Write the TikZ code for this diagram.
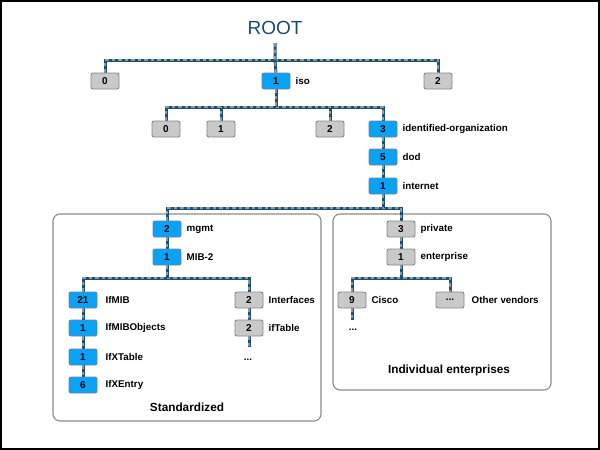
\documentclass[tikz,border=0pt]{standalone}
\usepackage{fontspec}
\setmainfont{Liberation Sans}
\usetikzlibrary{backgrounds}
\definecolor{rootblue}{HTML}{1B4A6B}
\definecolor{cabdark}{HTML}{1D4F73}
\definecolor{cabgray}{HTML}{8C989F}
\definecolor{boxblue}{HTML}{0AA2F7}
\definecolor{boxblueline}{HTML}{6F8493}
\definecolor{boxgray}{HTML}{C8C9C8}
\definecolor{boxgrayline}{HTML}{858585}
\definecolor{panelline}{HTML}{8A8A8A}
\tikzset{
  oidbox/.style={rectangle, rounded corners=2pt, minimum width=28pt, minimum height=16pt, inner sep=0pt, line width=0.9pt, font=\fontsize{10}{12}\selectfont\bfseries},
  bluebox/.style={oidbox, fill=boxblue, draw=boxblueline},
  graybox/.style={oidbox, fill=boxgray, draw=boxgrayline},
  lbl/.style={anchor=west, inner sep=0pt, font=\fontsize{9.8}{12}\selectfont\bfseries},
  ttl/.style={inner sep=0pt, font=\fontsize{11.8}{14}\selectfont\bfseries},
  cable/.style={draw=cabdark, line width=3pt, postaction={draw=cabgray, line width=1.7pt, dash pattern=on 3.5pt off 3pt}},
  panel/.style={draw=panelline, line width=1.1pt, rounded corners=7pt}
}
\begin{document}
\begin{tikzpicture}[x=1pt,y=-1pt]
\useasboundingbox (0,0) rectangle (600,450);
\draw[black, line width=1.6pt] (0.8,0.8) rectangle (599.2,449.2);

% ROOT
\node[inner sep=0pt, text=rootblue, font=\fontsize{19}{22}\selectfont] (root) at (275,28) {ROOT};
\coordinate (rootbot) at (275,43);

% level 1
\node[graybox] (a0) at (105,81) {0};
\node[bluebox] (iso) at (276,81) {1};
\node[lbl] (isol) at ([xshift=5pt]iso.east) {iso};
\node[graybox] (a2) at (438,81) {2};

% level 2
\node[graybox] (b0) at (166,129) {0};
\node[graybox] (b1) at (221,129) {1};
\node[graybox] (b2) at (330,129) {2};
\node[bluebox] (idorg) at (383,129) {3};
\node[lbl] (idorgl) at ([xshift=5pt]idorg.east) {identified-organization};
\node[bluebox] (dod) at (383,157) {5};
\node[lbl] (dodl) at ([xshift=5pt]dod.east) {dod};
\node[bluebox] (inet) at (383,186) {1};
\node[lbl] (inetl) at ([xshift=5pt]inet.east) {internet};

% standardized
\node[bluebox] (mgmt) at (167,229) {2};
\node[lbl] (mgmtl) at ([xshift=5pt]mgmt.east) {mgmt};
\node[bluebox] (mib) at (167,257) {1};
\node[lbl] (mibl) at ([xshift=5pt]mib.east) {MIB-2};
\node[bluebox] (ifmib) at (83,300) {21};
\node[lbl] (ifmibl) at ([xshift=8pt]ifmib.east) {IfMIB};
\node[bluebox] (ifobj) at (83,328) {1};
\node[lbl] (ifobjl) at ([xshift=8pt]ifobj.east) {IfMIBObjects};
\node[bluebox] (ifxt) at (83,357) {1};
\node[lbl] (ifxtl) at ([xshift=8pt]ifxt.east) {IfXTable};
\node[bluebox] (ifxe) at (83,385) {6};
\node[lbl] (ifxel) at ([xshift=8pt]ifxe.east) {IfXEntry};
\node[graybox] (intf) at (249,300) {2};
\node[lbl] (intfl) at ([xshift=5pt]intf.east) {Interfaces};
\node[graybox] (iftab) at (249,328) {2};
\node[lbl] (iftabl) at ([xshift=5pt]iftab.east) {ifTable};
\coordinate (iftabend) at (249,347);
\node[inner sep=0pt, font=\fontsize{9.8}{12}\selectfont\bfseries] (iftabdots) at (248,360) {...};
\node[ttl] (stdt) at (187,407) {Standardized};

% individual enterprises
\node[graybox] (priv) at (401,229) {3};
\node[lbl] (privl) at ([xshift=5pt]priv.east) {private};
\node[graybox] (ent) at (401,257) {1};
\node[lbl] (entl) at ([xshift=5pt]ent.east) {enterprise};
\node[graybox] (cisco) at (352,300) {9};
\node[lbl] (ciscol) at ([xshift=5pt]cisco.east) {Cisco};
\node[graybox] (other) at (450,300) {...};
\node[lbl] (otherl) at ([xshift=7pt]other.east) {Other vendors};
\coordinate (ciscoend) at (352,320);
\node[inner sep=0pt, font=\fontsize{9.8}{12}\selectfont\bfseries] (ciscodots) at (353,330) {...};
\node[ttl] (indt) at (449,370) {Individual enterprises};

% bar coordinates
\coordinate (bar1) at (275,60);
\coordinate (bar2) at (276,107);
\coordinate (bar3) at (383,208);
\coordinate (bar4) at (167,278);
\coordinate (bar5) at (401,278);

\begin{pgfonlayer}{background}
\draw[panel] (53,214) rectangle (321,421);
\draw[panel] (333,214) rectangle (551,390);

\draw[cable] (a0.north) |- (bar1) -| (a2.north);
\draw[cable] (rootbot) -- (bar1) -- (iso.north);
\draw[cable] (b0.north) |- (bar2) -| (idorg.north);
\draw[cable] (iso.south) -- (bar2);
\draw[cable] (b1.north) -- (b1.north |- bar2);
\draw[cable] (b2.north) -- (b2.north |- bar2);
\draw[cable] (idorg.south) -- (dod.north);
\draw[cable] (dod.south) -- (inet.north);
\draw[cable] (mgmt.north) |- (bar3) -| (priv.north);
\draw[cable] (inet.south) -- (bar3);
\draw[cable] (mgmt.south) -- (mib.north);
\draw[cable] (ifmib.north) |- (bar4) -| (intf.north);
\draw[cable] (mib.south) -- (bar4);
\draw[cable] (ifmib.south) -- (ifobj.north);
\draw[cable] (ifobj.south) -- (ifxt.north);
\draw[cable] (ifxt.south) -- (ifxe.north);
\draw[cable] (intf.south) -- (iftab.north);
\draw[cable] (iftab.south) -- (iftabend);
\draw[cable] (priv.south) -- (ent.north);
\draw[cable] (cisco.north) |- (bar5) -| (other.north);
\draw[cable] (ent.south) -- (bar5);
\draw[cable] (cisco.south) -- (ciscoend);
\end{pgfonlayer}
\end{tikzpicture}
\end{document}
